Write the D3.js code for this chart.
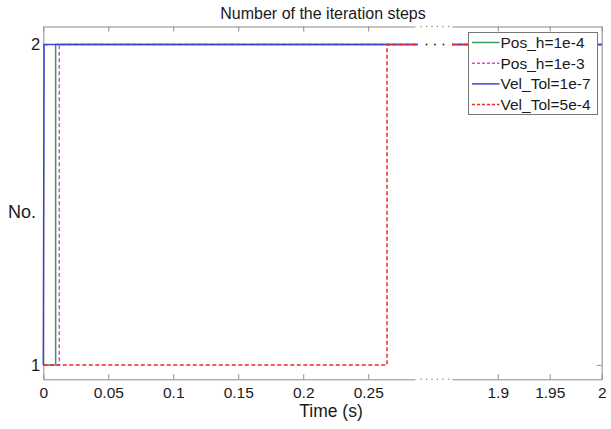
<!DOCTYPE html>
<html>
<head>
<meta charset="utf-8">
<script src="https://cdn.jsdelivr.net/npm/d3@7"></script>
<style>
  body { margin: 0; background: #fff; }
  svg { display: block; font-family: "Liberation Sans", Arial, sans-serif; }
</style>
</head>
<body>
<svg id="chart" width="611" height="429"></svg>
<script>
// data: time (s) vs number of iteration steps
const seriesNames = ["Pos_h=1e-4", "Pos_h=1e-3", "Vel_Tol=1e-7", "Vel_Tol=5e-4"];
const posH4Time = [0, 0.0095, 0.0095, 2];
const posH4Steps = [1, 1, 2, 2];
const posH3Time = [0, 0.0123, 0.0123, 2];
const posH3Steps = [1, 1, 2, 2];
const velTol7Time = [0, 0.0006, 2];
const velTol7Steps = [1, 2, 2];
const velTol5Time = [0, 0.2645, 0.2645, 2];
const velTol5Steps = [1, 1, 2, 2];
const leftTicks = [0, 0.05, 0.1, 0.15, 0.2, 0.25];
const rightTicks = [1.9, 1.95, 2];
const yTicks = [1, 2];

// styles
const colors = ["#3a9a5c", "#e048d4", "#3a46c8", "#f02828"];
const dashes = [null, "4,2.5", null, "4,2.5"];
const axisGray = "#8c8c8c";

const series = [
  { t: posH4Time, n: posH4Steps },
  { t: posH3Time, n: posH3Steps },
  { t: velTol7Time, n: velTol7Steps },
  { t: velTol5Time, n: velTol5Steps }
].map((s, i) => ({
  name: seriesNames[i],
  color: colors[i],
  dash: dashes[i],
  points: s.t.map((t, j) => ({ t: t, n: s.n[j] }))
}));

const svg = d3.select("#chart");

// broken x axis: two scales side by side
const xL = d3.scaleLinear().domain([0, 0.286]).range([43.3, 415]);
const xR = d3.scaleLinear().domain([1.856, 2]).range([452, 601.7]);
const y = d3.scaleLinear().domain([0.955, 2.056]).range([379.3, 26.5]);
const yTop = y.range()[1], yBottom = y.range()[0];
const gapStart = 418, gapEnd = xR.range()[0];

function styleAxis(g, size) {
  g.select(".domain").attr("stroke", axisGray);
  g.selectAll(".tick line").attr("stroke", axisGray);
  g.selectAll(".tick text")
    .attr("fill", "#1a1a1a")
    .attr("font-size", size)
    .attr("font-family", '"Liberation Sans", Arial, sans-serif');
}

const fmt = d3.format("~g");

// bottom and top axes, one pair per half
[[xL, leftTicks], [xR, rightTicks]].forEach(([sc, ticks]) => {
  svg.append("g")
    .attr("transform", `translate(0,${yBottom})`)
    .call(d3.axisBottom(sc).tickValues(ticks).tickSize(-5).tickSizeOuter(0)
      .tickPadding(8).tickFormat(fmt))
    .call(g => styleAxis(g, 15.5));
  svg.append("g")
    .attr("transform", `translate(0,${yTop})`)
    .call(d3.axisTop(sc).tickValues(ticks).tickSize(-5).tickSizeOuter(0).tickFormat(""))
    .call(g => styleAxis(g, 15.5));
});

// y axes
svg.append("g")
  .attr("transform", `translate(${xL.range()[0]},0)`)
  .call(d3.axisLeft(y).tickValues(yTicks).tickSize(-5).tickSizeOuter(0)
    .tickPadding(3).tickFormat(fmt))
  .call(g => styleAxis(g, 16.5));
svg.append("g")
  .attr("transform", `translate(${xR.range()[1]},0)`)
  .call(d3.axisRight(y).tickValues(yTicks).tickSize(-5).tickSizeOuter(0).tickFormat(""))
  .call(g => styleAxis(g, 16.5));

// dotted break marks on the frame
const frameDots = d3.range(6).map(i => gapStart + 3 + i * 5.5);
[yTop, yBottom].forEach(yy => {
  svg.append("g").selectAll("circle")
    .data(frameDots)
    .join("circle")
    .attr("cx", d => d)
    .attr("cy", yy)
    .attr("r", 0.75)
    .attr("fill", axisGray);
});

// clip regions for the two halves
const defs = svg.append("defs");
defs.append("clipPath").attr("id", "clipL")
  .append("rect").attr("x", 40).attr("y", yTop - 5)
  .attr("width", gapStart - 40).attr("height", yBottom - yTop + 10);
defs.append("clipPath").attr("id", "clipR")
  .append("rect").attr("x", gapEnd).attr("y", yTop - 5)
  .attr("width", xR.range()[1] - gapEnd + 3).attr("height", yBottom - yTop + 10);

[[xL, "clipL"], [xR, "clipR"]].forEach(([sc, clip]) => {
  const line = d3.line().x(d => sc(d.t)).y(d => y(d.n));
  svg.append("g")
    .attr("clip-path", `url(#${clip})`)
    .selectAll("path")
    .data(series)
    .join("path")
    .attr("d", d => line(d.points))
    .attr("fill", "none")
    .attr("stroke", d => d.color)
    .attr("stroke-width", 1.5)
    .attr("stroke-dasharray", d => d.dash);
});

// dots across the gap for the lines at 2 steps
svg.append("g").selectAll("circle")
  .data([1, 2, 3])
  .join("circle")
  .attr("cx", k => gapStart + (gapEnd - gapStart) * k / 4)
  .attr("cy", y(2))
  .attr("r", 1)
  .attr("fill", "#333");

// titles
svg.append("text")
  .attr("x", 323).attr("y", 19)
  .attr("text-anchor", "middle")
  .attr("font-size", 16)
  .attr("fill", "#1a1a1a")
  .text("Number of the iteration steps");
svg.append("text")
  .attr("x", 331).attr("y", 417)
  .attr("text-anchor", "middle")
  .attr("font-size", 17.5)
  .attr("fill", "#1a1a1a")
  .text("Time (s)");
svg.append("text")
  .attr("x", 22).attr("y", 218)
  .attr("text-anchor", "middle")
  .attr("font-size", 18)
  .attr("fill", "#1a1a1a")
  .text("No.");

// legend
const legend = svg.append("g").attr("transform", "translate(468.5,32.5)");
legend.append("rect")
  .attr("width", 129).attr("height", 82)
  .attr("fill", "#fff")
  .attr("stroke", "#777")
  .attr("stroke-width", 1);
const item = legend.selectAll("g.item")
  .data(series)
  .join("g")
  .attr("class", "item")
  .attr("transform", (d, i) => `translate(0,${10 + i * 20.7})`);
item.append("line")
  .attr("x1", 3.5).attr("x2", 31)
  .attr("stroke", d => d.color)
  .attr("stroke-width", 1.5)
  .attr("stroke-dasharray", d => d.dash ? "3,2" : null);
item.append("text")
  .attr("x", 32).attr("dy", "0.35em")
  .attr("font-size", 15.5)
  .attr("fill", "#1a1a1a")
  .text(d => d.name);
</script>
</body>
</html>
